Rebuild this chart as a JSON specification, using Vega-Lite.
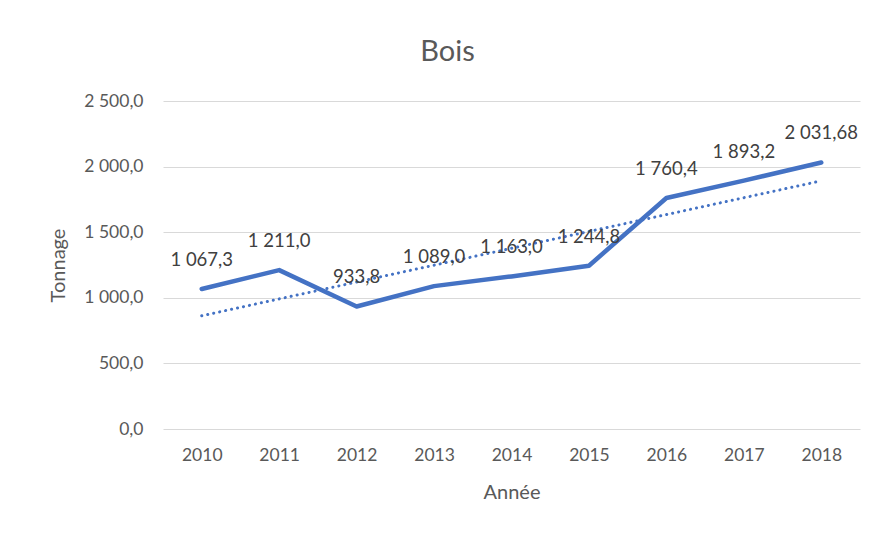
{
  "$schema": "https://vega.github.io/schema/vega-lite/v6.json",
  "width": 697,
  "height": 328,
  "autosize": {"type": "none"},
  "padding": {"left": 163, "top": 101, "right": 15, "bottom": 105},
  "background": "white",
  "title": {
    "text": "Bois",
    "anchor": "middle",
    "fontSize": 29,
    "font": "Lato",
    "fontWeight": "normal",
    "color": "#595959",
    "dx": -64,
    "offset": 25
  },
  "data": {
    "values": [
      {"year": 2010, "tonnage": 1067.3, "label": "1 067,3"},
      {"year": 2011, "tonnage": 1211.0, "label": "1 211,0"},
      {"year": 2012, "tonnage": 933.8, "label": "933,8"},
      {"year": 2013, "tonnage": 1089.0, "label": "1 089,0"},
      {"year": 2014, "tonnage": 1163.0, "label": "1 163,0"},
      {"year": 2015, "tonnage": 1244.8, "label": "1 244,8"},
      {"year": 2016, "tonnage": 1760.4, "label": "1 760,4"},
      {"year": 2017, "tonnage": 1893.2, "label": "1 893,2"},
      {"year": 2018, "tonnage": 2031.68, "label": "2 031,68"}
    ]
  },
  "encoding": {
    "x": {
      "field": "year",
      "type": "quantitative",
      "scale": {"domain": [2009.5, 2018.5], "nice": false, "zero": false},
      "axis": {
        "title": "Année",
        "values": [2010, 2011, 2012, 2013, 2014, 2015, 2016, 2017, 2018],
        "format": "d",
        "grid": false,
        "ticks": false,
        "domain": false,
        "labelPadding": 17,
        "titlePadding": 19,
        "titleFontSize": 20,
        "labelFontSize": 17.5
      }
    },
    "y": {
      "field": "tonnage",
      "type": "quantitative",
      "scale": {"domain": [0, 2500], "nice": false},
      "axis": {
        "title": "Tonnage",
        "values": [0, 500, 1000, 1500, 2000, 2500],
        "format": ",.1f",
        "ticks": false,
        "domain": false,
        "labelPadding": 20,
        "titlePadding": 15,
        "titleFontSize": 20,
        "labelFontSize": 17.5
      }
    }
  },
  "layer": [
    {
      "transform": [{"regression": "tonnage", "on": "year", "extent": [2010, 2018]}],
      "mark": {"type": "line", "color": "#4472C4", "strokeWidth": 3, "strokeDash": [0.1, 6], "strokeCap": "round"}
    },
    {
      "mark": {"type": "line", "color": "#4472C4", "strokeWidth": 4.5, "strokeJoin": "round", "strokeCap": "round"}
    },
    {
      "mark": {"type": "text", "dy": -29, "fontSize": 18.5, "font": "Lato", "color": "#404040"},
      "encoding": {"text": {"field": "label"}}
    }
  ],
  "config": {
    "locale": {"number": {"decimal": ",", "thousands": " ", "grouping": [3], "currency": ["", " €"]}},
    "view": {"stroke": null},
    "axis": {
      "labelFont": "Lato",
      "labelColor": "#595959",
      "titleFont": "Lato",
      "titleFontWeight": "normal",
      "titleColor": "#595959",
      "gridColor": "#d9d9d9",
      "gridWidth": 1.2
    }
  }
}
